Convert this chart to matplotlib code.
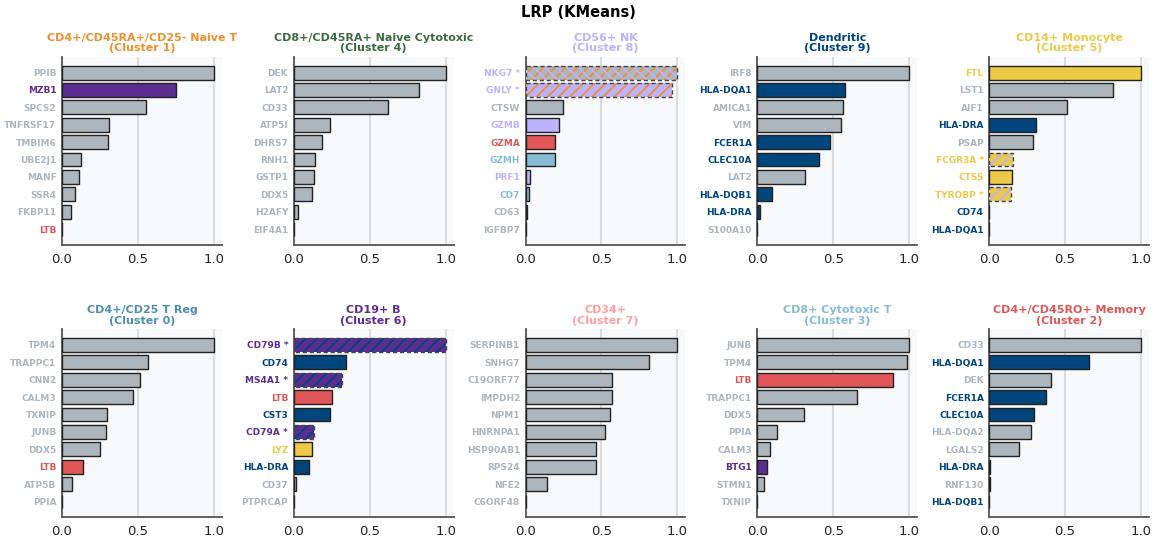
"""
LRP (KMeans) top-gene relevance per cluster, small-multiple bar charts.
"""

import matplotlib
matplotlib.use("Agg")
import matplotlib.pyplot as plt

# Panel titles (row-major order) and their colours
titles = [
    "CD4+/CD45RA+/CD25- Naive T\n(Cluster 1)",
    "CD8+/CD45RA+ Naive Cytotoxic\n(Cluster 4)",
    "CD56+ NK\n(Cluster 8)",
    "Dendritic\n(Cluster 9)",
    "CD14+ Monocyte\n(Cluster 5)",
    "CD4+/CD25 T Reg\n(Cluster 0)",
    "CD19+ B\n(Cluster 6)",
    "CD34+\n(Cluster 7)",
    "CD8+ Cytotoxic T\n(Cluster 3)",
    "CD4+/CD45RO+ Memory\n(Cluster 2)",
]
title_keys = ["orange", "green", "lav", "blue", "yellow",
              "steel", "purple", "pink", "lblue", "red"]

genes = [
    ["PPIB", "MZB1", "SPCS2", "TNFRSF17", "TMBIM6", "UBE2J1", "MANF", "SSR4", "FKBP11", "LTB"],
    ["DEK", "LAT2", "CD33", "ATP5I", "DHRS7", "RNH1", "GSTP1", "DDX5", "H2AFY", "EIF4A1"],
    ["NKG7 *", "GNLY *", "CTSW", "GZMB", "GZMA", "GZMH", "PRF1", "CD7", "CD63", "IGFBP7"],
    ["IRF8", "HLA-DQA1", "AMICA1", "VIM", "FCER1A", "CLEC10A", "LAT2", "HLA-DQB1", "HLA-DRA", "S100A10"],
    ["FTL", "LST1", "AIF1", "HLA-DRA", "PSAP", "FCGR3A *", "CTSS", "TYROBP *", "CD74", "HLA-DQA1"],
    ["TPM4", "TRAPPC1", "CNN2", "CALM3", "TXNIP", "JUNB", "DDX5", "LTB", "ATP5B", "PPIA"],
    ["CD79B *", "CD74", "MS4A1 *", "LTB", "CST3", "CD79A *", "LYZ", "HLA-DRA", "CD37", "PTPRCAP"],
    ["SERPINB1", "SNHG7", "C19ORF77", "IMPDH2", "NPM1", "HNRNPA1", "HSP90AB1", "RPS24", "NFE2", "C6ORF48"],
    ["JUNB", "TPM4", "LTB", "TRAPPC1", "DDX5", "PPIA", "CALM3", "BTG1", "STMN1", "TXNIP"],
    ["CD33", "HLA-DQA1", "DEK", "FCER1A", "CLEC10A", "HLA-DQA2", "LGALS2", "HLA-DRA", "RNF130", "HLA-DQB1"],
]

relevance = [
    [1.0, 0.754, 0.553, 0.309, 0.305, 0.127, 0.112, 0.088, 0.061, 0.003],
    [1.0, 0.825, 0.619, 0.236, 0.186, 0.142, 0.133, 0.120, 0.028, 0.002],
    [1.0, 0.965, 0.248, 0.219, 0.195, 0.195, 0.031, 0.022, 0.011, 0.001],
    [1.0, 0.580, 0.567, 0.551, 0.481, 0.407, 0.313, 0.094, 0.015, 0.0],
    [1.0, 0.816, 0.511, 0.311, 0.289, 0.158, 0.147, 0.145, 0.001, 0.0],
    [1.0, 0.568, 0.515, 0.465, 0.298, 0.292, 0.250, 0.140, 0.066, 0.002],
    [1.0, 0.346, 0.319, 0.252, 0.236, 0.131, 0.118, 0.098, 0.013, 0.001],
    [1.0, 0.811, 0.570, 0.568, 0.555, 0.522, 0.467, 0.463, 0.140, 0.001],
    [1.0, 0.985, 0.893, 0.656, 0.309, 0.131, 0.081, 0.066, 0.044, 0.0],
    [1.0, 0.658, 0.404, 0.377, 0.294, 0.274, 0.197, 0.007, 0.005, 0.001],
]

# label / bar colour per gene (marker-gene membership)
gene_keys = [
    ["grey", "purple", "grey", "grey", "grey", "grey", "grey", "grey", "grey", "red"],
    ["grey"] * 10,
    ["lav", "lav", "grey", "lav", "red", "lblue", "lav", "lblue", "grey", "grey"],
    ["grey", "blue", "grey", "grey", "blue", "blue", "grey", "blue", "blue", "grey"],
    ["yellow", "grey", "grey", "blue", "grey", "yellow", "yellow", "yellow", "blue", "blue"],
    ["grey", "grey", "grey", "grey", "grey", "grey", "grey", "red", "grey", "grey"],
    ["purple", "blue", "purple", "red", "blue", "purple", "yellow", "blue", "grey", "grey"],
    ["grey"] * 10,
    ["grey", "grey", "red", "grey", "grey", "grey", "grey", "purple", "grey", "grey"],
    ["grey", "blue", "grey", "blue", "blue", "grey", "grey", "blue", "grey", "blue"],
]

# bar face override and hatch colours for genes shared between clusters
face_keys = [
    [None] * 10,
    [None] * 10,
    ["grey", None, None, None, None, None, None, None, None, None],
    [None] * 10,
    [None] * 10,
    [None] * 10,
    [None] * 10,
    [None] * 10,
    [None] * 10,
    [None] * 10,
]
hatch_keys = [
    [None] * 10,
    [None] * 10,
    [("orange", "lav"), ("orange",), None, None, None, None, None, None, None, None],
    [None] * 10,
    [None, None, None, None, None, ("lav",), None, ("lav",), None, None],
    [None] * 10,
    [("blue",), None, ("blue",), None, None, ("blue",), None, None, None, None],
    [None] * 10,
    [None] * 10,
    [None] * 10,
]

palette = {
    "grey": "#adb5bd",
    "purple": "#5c2d91",
    "blue": "#00457c",
    "red": "#e15759",
    "yellow": "#edc948",
    "lav": "#bcb3ff",
    "lblue": "#86bcd6",
    "orange": "#f28e2b",
    "green": "#3b6b42",
    "steel": "#4e8fae",
    "pink": "#ff9da7",
}

plt.rcParams["hatch.linewidth"] = 1.3

fig = plt.figure(figsize=(11.56, 5.37), dpi=100)
gs = fig.add_gridspec(2, 5, left=0.0536, right=0.994, top=0.894, bottom=0.037,
                      wspace=0.45, hspace=0.45)
fig.suptitle("LRP (KMeans)", fontsize=10.5, fontweight="bold", y=0.99)

for p in range(10):
    ax = fig.add_subplot(gs[p // 5, p % 5])
    ax.set_facecolor("#f8f9fa")
    ypos = list(range(len(genes[p])))

    for i, (g, v) in enumerate(zip(genes[p], relevance[p])):
        col = palette[gene_keys[p][i]]
        face = palette[face_keys[p][i]] if face_keys[p][i] else col
        hk = hatch_keys[p][i]
        if hk is None:
            ax.barh(i, v, height=0.8, color=face, edgecolor="#222222",
                    linewidth=1.0, zorder=3)
        else:
            ax.barh(i, v, height=0.8, color=face, edgecolor=palette[hk[0]],
                    linewidth=0, hatch="///", zorder=3)
            if len(hk) > 1:
                ax.barh(i, v, height=0.8, fill=False, edgecolor=palette[hk[1]],
                        linewidth=0, hatch="\\\\\\", zorder=3)
            ax.barh(i, v, height=0.8, fill=False, edgecolor="#444444",
                    linewidth=1.0, linestyle=(0, (3, 2)), zorder=4)

    ax.set_yticks(ypos)
    ax.set_yticklabels(genes[p], fontsize=6.5, fontweight="bold")
    for lbl, k in zip(ax.get_yticklabels(), gene_keys[p]):
        lbl.set_color(palette[k])
    ax.set_ylim(9.9, -0.9)
    ax.set_xlim(0, 1.053)
    ax.set_xticks([0.0, 0.5, 1.0])
    ax.set_xticklabels(["0.0", "0.5", "1.0"], fontsize=9.5, color="#222222")
    ax.tick_params(axis="both", length=0, pad=4)
    ax.tick_params(axis="x", pad=6)

    ax.grid(axis="x", color="#dcdcdc", linewidth=1.5, zorder=0)
    ax.set_axisbelow(True)
    for s in ["top", "right"]:
        ax.spines[s].set_visible(False)
    for s in ["left", "bottom"]:
        ax.spines[s].set_color("#555555")
        ax.spines[s].set_linewidth(1.3)

    ax.set_title(titles[p], fontsize=8, fontweight="bold",
                 color=palette[title_keys[p]], pad=4, linespacing=1.05)

plt.savefig("out.png", dpi=100)
plt.close()
